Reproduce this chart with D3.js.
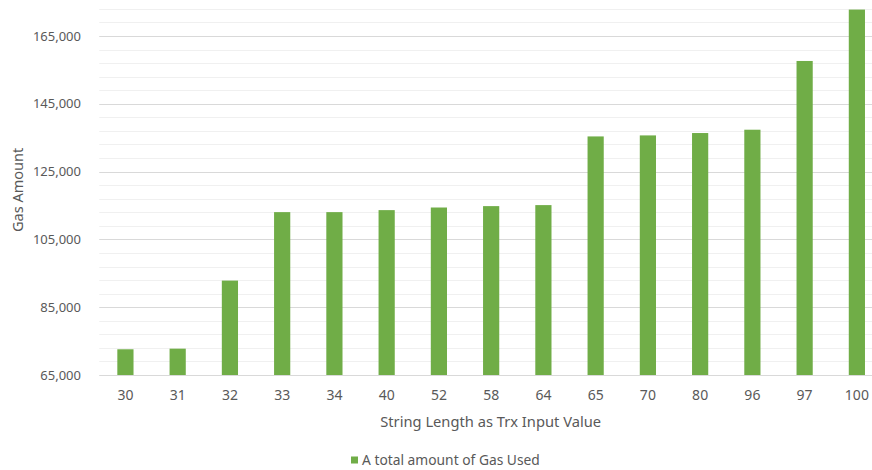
<!DOCTYPE html>
<html><head><meta charset="utf-8">
<script src="https://cdn.jsdelivr.net/npm/d3@7"></script>
<style>
body{margin:0;background:#fff;}
svg text{font-family:"Noto Sans","Open Sans",sans-serif;fill:#595959;}
</style></head>
<body><svg id="c" width="872" height="470"></svg>
<script>
const categories = ["30","31","32","33","34","40","52","58","64","65","70","80","96","97","100"];
const gasUsed = [72590,72770,92850,113050,113050,113640,114410,114820,115120,135380,135680,136380,137360,157640,172800];
const majorTicks = [65000,85000,105000,125000,145000,165000];
const minorTicks = d3.range(65000, 173001, 4000);
const seriesName = "A total amount of Gas Used";
const xTitle = "String Length as Trx Input Value";
const yTitle = "Gas Amount";

const svg = d3.select("#c");
const m = {l:99.3, r:883, t:8.9, b:375};
const x = d3.scaleBand().domain(categories).range([m.l, m.r]).paddingInner(0.69).paddingOuter(0.345);
const y = d3.scaleLinear().domain([65000,173000]).range([m.b, m.t]);

const g = svg.append("g");
g.selectAll("line.minor").data(minorTicks).join("line").attr("class","minor")
 .attr("x1",m.l).attr("x2",m.r).attr("y1",d=>Math.round(y(d))+0.5).attr("y2",d=>Math.round(y(d))+0.5)
 .attr("stroke","#f0f0f0").attr("stroke-width",1);
g.selectAll("line.major").data(majorTicks).join("line").attr("class","major")
 .attr("x1",m.l).attr("x2",m.r).attr("y1",d=>Math.round(y(d))+0.5).attr("y2",d=>Math.round(y(d))+0.5)
 .attr("stroke","#d9d9d9").attr("stroke-width",1);

g.selectAll("rect.bar").data(gasUsed).join("rect").attr("class","bar")
 .attr("x",(d,i)=>x(categories[i])).attr("width",x.bandwidth())
 .attr("y",d=>y(d)).attr("height",d=>y(65000)-y(d)).attr("fill","#70ad47");

const ya = d3.axisLeft(y).tickValues(majorTicks).tickSize(0).tickPadding(0).tickFormat(d3.format(","));
svg.append("g").attr("transform","translate(81,0)").call(ya)
 .call(s=>s.select(".domain").remove())
 .call(s=>s.selectAll("text").attr("font-size",13).style("fill","#595959").style("font-family","'Noto Sans',sans-serif"));

const xa = d3.axisBottom(x).tickSize(0).tickPadding(0);
svg.append("g").attr("transform","translate(0,390)").call(xa)
 .call(s=>s.select(".domain").remove())
 .call(s=>s.selectAll("text").attr("font-size",14).attr("dy","0.35em").attr("y",5).style("fill","#595959").style("font-family","'Noto Sans',sans-serif"));

svg.append("text").attr("x",(m.l+m.r)/2 - 0.5).attr("y",422).attr("dy","0.35em").attr("text-anchor","middle")
 .attr("font-size",14.7).text(xTitle);
svg.append("text").attr("transform",`translate(18,${(m.t+m.b)/2 - 2}) rotate(-90)`).attr("dy","0.35em").attr("text-anchor","middle")
 .attr("font-size",14.5).text(yTitle);

const lg = svg.append("g");
lg.append("rect").attr("x",351).attr("y",456.5).attr("width",7).attr("height",7).attr("fill","#70ad47");
lg.append("text").attr("x",362).attr("y",460).attr("dy","0.35em").attr("font-size",13.8).text(seriesName);
</script></body></html>
